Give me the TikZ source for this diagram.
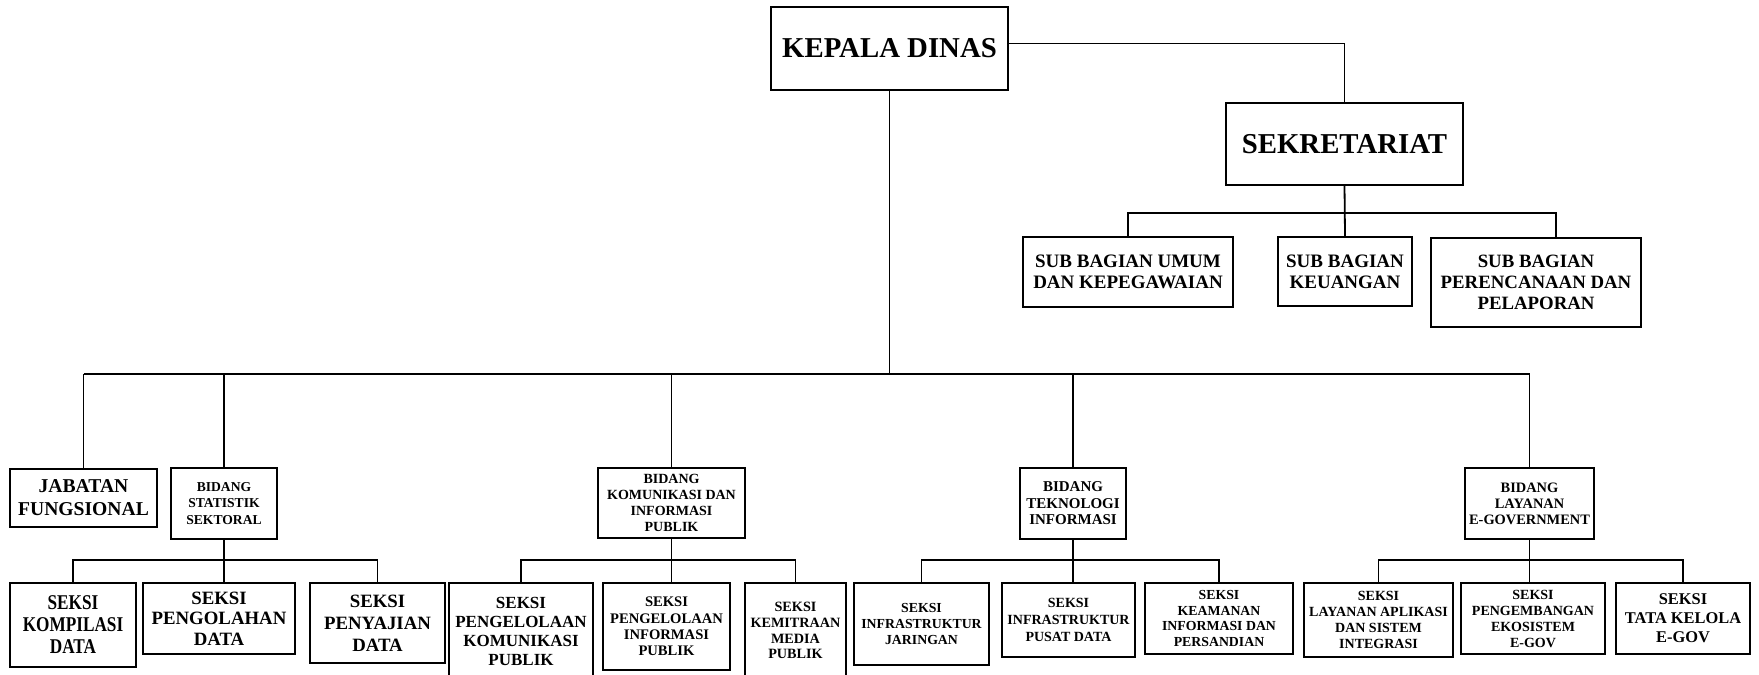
\documentclass[tikz,border=0pt]{standalone}
\usepackage{fontspec}
\setmainfont{Liberation Serif}
\newfontfamily\narrowserif[FakeStretch=0.82]{Liberation Serif Bold}
\newcommand\boxfont[2]{\fontsize{#1pt}{#2pt}\selectfont\bfseries}
\tikzset{
	orgbox/.style={draw, line width=1pt, fill=white, align=center, inner sep=0pt},
	link/.style={line width=0.9pt},
}
\begin{document}
\begin{tikzpicture}[x=0.5pt, y=-0.5pt]
	\useasboundingbox (0,0) rectangle (1759,674);
	% pimpinan dan sekretariat
	\node[orgbox, minimum width=118.5pt, minimum height=41.5pt, font=\boxfont{14.4}{17}] at (889.5,48.5)(kadis){KEPALA DINAS};
	\node[orgbox, minimum width=118.5pt, minimum height=41pt, font=\boxfont{14.4}{17}] at (1344.5,144)(sekre){SEKRETARIAT};
	\node[orgbox, minimum width=105pt, minimum height=35pt, font=\boxfont{9.5}{10.5}] at (1128,272)(umum){SUB BAGIAN UMUM\\DAN KEPEGAWAIAN};
	\node[orgbox, minimum width=67pt, minimum height=34.5pt, font=\boxfont{9.5}{10.5}] at (1345,271.5)(keu){SUB BAGIAN\\KEUANGAN};
	\node[orgbox, minimum width=105pt, minimum height=44.5pt, font=\boxfont{9.4}{10.5}] at (1536,282.5)(renc){SUB BAGIAN\\PERENCANAAN DAN\\PELAPORAN};
	% bidang
	\node[orgbox, minimum width=73.5pt, minimum height=29pt, font=\boxfont{9.8}{11.5}] at (83.5,498)(jafung){JABATAN\\FUNGSIONAL};
	\node[orgbox, minimum width=53pt, minimum height=35.5pt, font=\boxfont{6.8}{8.2}] at (224,503.5)(statistik){BIDANG\\STATISTIK\\SEKTORAL};
	\node[orgbox, minimum width=73.5pt, minimum height=35pt, font=\boxfont{7}{8}] at (671.5,503)(kominfo){BIDANG\\KOMUNIKASI DAN\\INFORMASI\\PUBLIK};
	\node[orgbox, minimum width=53pt, minimum height=35.5pt, font=\boxfont{7.5}{8.3}] at (1073,503.5)(tekinfo){BIDANG\\TEKNOLOGI\\INFORMASI};
	\node[orgbox, minimum width=64.5pt, minimum height=35.5pt, font=\boxfont{7.2}{8}] at (1529.5,503.5)(layanan){BIDANG\\LAYANAN\\E-GOVERNMENT};
	% seksi
	\node[orgbox, minimum width=63pt, minimum height=42pt, font=\narrowserif\fontsize{10.5pt}{11pt}\selectfont] at (73,625)(kompilasi){SEKSI\\KOMPILASI\\DATA};
	\node[orgbox, minimum width=76pt, minimum height=35.5pt, font=\boxfont{9.4}{10.2}] at (219,618.5)(pengolahan){SEKSI\\PENGOLAHAN\\DATA};
	\node[orgbox, minimum width=67.5pt, minimum height=40pt, font=\boxfont{9.4}{11}] at (377.5,623)(penyajian){SEKSI\\PENYAJIAN\\DATA};
	\node[orgbox, minimum width=72pt, minimum height=48.5pt, font=\boxfont{8.5}{9.5}] at (521,631.5)(pkom){SEKSI\\PENGELOLAAN\\KOMUNIKASI\\PUBLIK};
	\node[orgbox, minimum width=63.5pt, minimum height=43.5pt, font=\boxfont{7.3}{8.2}] at (666.5,626.5)(pinfo){SEKSI\\PENGELOLAAN\\INFORMASI\\PUBLIK};
	\node[orgbox, minimum width=50.5pt, minimum height=47.5pt, font=\boxfont{7.1}{7.9}] at (795.5,630.5)(kmedia){SEKSI\\KEMITRAAN\\MEDIA\\PUBLIK};
	\node[orgbox, minimum width=67.5pt, minimum height=41pt, font=\boxfont{6.9}{8}] at (921.5,624)(jaringan){SEKSI\\INFRASTRUKTUR\\JARINGAN};
	\node[orgbox, minimum width=66.5pt, minimum height=37pt, font=\boxfont{7}{8.3}] at (1068.5,620)(pusdat){SEKSI\\INFRASTRUKTUR\\PUSAT DATA};
	\node[orgbox, minimum width=74pt, minimum height=35.5pt, font=\boxfont{6.9}{7.9}] at (1219,618.5)(keamanan){SEKSI\\KEAMANAN\\INFORMASI DAN\\PERSANDIAN};
	\node[orgbox, minimum width=74.5pt, minimum height=37pt, font=\boxfont{7}{7.9}] at (1378.5,620)(aplikasi){SEKSI\\LAYANAN APLIKASI\\DAN SISTEM\\INTEGRASI};
	\node[orgbox, minimum width=72pt, minimum height=35.5pt, font=\boxfont{7}{8}] at (1533,618.5)(ekosistem){SEKSI\\PENGEMBANGAN\\EKOSISTEM\\E-GOV};
	\node[orgbox, minimum width=67pt, minimum height=35.5pt, font=\boxfont{8.2}{9.5}] at (1683,618.5)(tatakelola){SEKSI\\TATA KELOLA\\E-GOV};
	% garis
	\coordinate (busS) at (0,213);
	\coordinate (busA) at (0,374);
	\coordinate (busB) at (0,560);
	\coordinate (rencdrop) at ([xshift=10pt]renc.north);
	\draw[link] ([yshift=2.5pt]kadis.east) -| (sekre.north);
	\draw[link] (sekre.south) -- (keu.north);
	\draw[link] (umum.north) -- (umum.north |- busS) -- (rencdrop |- busS) -- (rencdrop);
	\draw[link] (kadis.south) -- (kadis.south |- busA);
	\draw[link] (jafung.north |- busA) -- (layanan.north |- busA);
	\foreach \n in {jafung,statistik,kominfo,tekinfo,layanan}
		\draw[link] (\n.north) -- (\n.north |- busA);
	\foreach \p/\l/\m/\r in {statistik/kompilasi/pengolahan/penyajian,kominfo/pkom/pinfo/kmedia,tekinfo/jaringan/pusdat/keamanan,layanan/aplikasi/ekosistem/tatakelola}{
		\draw[link] (\p.south) -- (\p.south |- \m.north);
		\draw[link] (\l.north) -- (\l.north |- busB) -- (\r.north |- busB) -- (\r.north);
	}
\end{tikzpicture}
\end{document}
